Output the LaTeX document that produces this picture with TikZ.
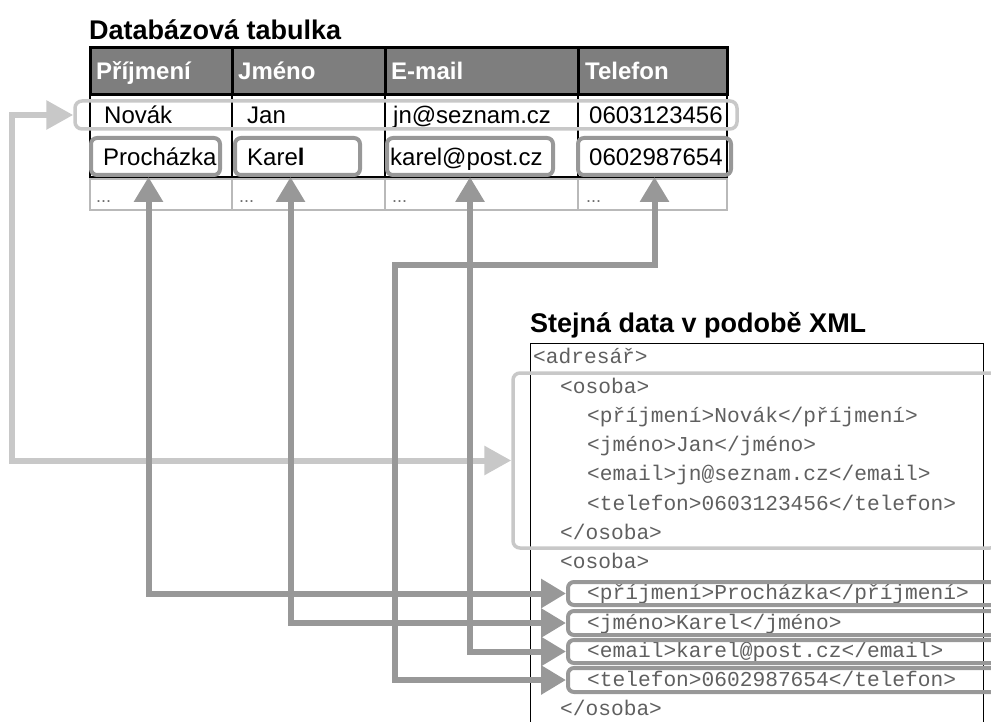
\documentclass[tikz,border=0pt]{standalone}
\usepackage{fontspec}
\setmainfont{Liberation Sans}
\setmonofont{Liberation Mono}
\usetikzlibrary{arrows.meta}

\begin{document}
\begin{tikzpicture}[x=1pt,y=-1pt,
  title/.style={anchor=base west,inner sep=0pt,font=\fontsize{27}{30}\selectfont\bfseries},
  head/.style={anchor=base west,inner sep=0pt,text=white,font=\fontsize{24}{28}\selectfont\bfseries},
  cell/.style={anchor=base west,inner sep=0pt,font=\fontsize{24}{28}\selectfont},
  more/.style={anchor=base west,inner sep=0pt,text=dots_gray,font=\fontsize{18}{20}\selectfont},
  xml/.style={anchor=base west,inner sep=0pt,text=xml_text,font=\fontsize{21.2}{24}\selectfont\ttfamily},
  rowbox/.style={draw=lt_gray,line width=3.5pt,rounded corners=7pt,inner sep=0pt},
  cellbox/.style={draw=dk_gray,line width=4pt,rounded corners=6pt,inner sep=0pt},
  ltarrow/.style={draw=lt_gray,line width=6pt,{Triangle[length=27pt,width=28pt]}-{Triangle[length=27pt,width=28pt]}},
  dkarrow/.style={draw=dk_gray,line width=6pt,{Triangle[length=25pt,width=28pt]}-{Triangle[length=25pt,width=28pt]}}
]
\definecolor{head_gray}{RGB}{126,126,126}
\definecolor{lt_gray}{RGB}{200,200,200}
\definecolor{dk_gray}{RGB}{152,152,152}
\definecolor{row_gray}{RGB}{185,185,185}
\definecolor{dots_gray}{RGB}{110,110,110}
\definecolor{xml_text}{RGB}{95,95,95}

\useasboundingbox (0,0) rectangle (991,722);

% table columns
\def\ca{90}
\def\cb{232}
\def\cc{385}
\def\cd{578}
\def\ce{727}

\node[title] (dbtitle) at (89,40) {Databázová tabulka};

% header row
\fill [head_gray] (\ca,48) rectangle (\ce,95);
\draw [line width=3pt] (\ca,48) rectangle (\ce,95);
\draw [line width=3pt] (\cb,48) -- (\cb,95);
\draw [line width=3pt] (\cc,48) -- (\cc,95);
\draw [line width=3pt] (\cd,48) -- (\cd,95);

% data rows
\draw [line width=1.5pt] (\ca,95) -- (\ca,178);
\draw [line width=1.5pt] (\cb,95) -- (\cb,178);
\draw [line width=1.5pt] (\cc,95) -- (\cc,178);
\draw [line width=1.5pt] (\cd,95) -- (\cd,178);
\draw [line width=1.5pt] (\ce,95) -- (\ce,178);
\draw [line width=3pt] (\ca,178) -- (\ce,178);
\draw [row_gray,line width=1.5pt] (\ca,179) rectangle (\ce,210);
\draw [row_gray,line width=1.5pt] (\cb,179) -- (\cb,210);
\draw [row_gray,line width=1.5pt] (\cc,179) -- (\cc,210);
\draw [row_gray,line width=1.5pt] (\cd,179) -- (\cd,210);

\node[head] (hprij) at (96,80) {Příjmení};
\node[head] (hjm)   at (238,80) {Jméno};
\node[head] (hmail) at (391,80) {E-mail};
\node[head] (htel)  at (585,80) {Telefon};

\node[cell] (tprij1) at (104,124) {Novák};
\node[cell] (tjm1)   at (247,124) {Jan};
\node[cell] (tmail1) at (393,124) {jn@seznam.cz};
\node[cell] (ttel1)  at (589,124) {0603123456};

\node[cell] (tprij2) at (103,166) {Procházka};
\node[cell] (tjm2)   at (247,166) {Kare\textbf{l}};
\node[cell] (tmail2) at (390,166) {karel@post.cz};
\node[cell] (ttel2)  at (589,166) {0602987654};

\node[more] (m1) at (96,203) {...};
\node[more] (m2) at (239,203) {...};
\node[more] (m3) at (392,203) {...};
\node[more] (m4) at (586,203) {...};

% highlighted record and fields
\node[rowbox,minimum width=662pt,minimum height=28pt] (nov) at (406,115) {};
\node[cellbox,minimum width=129pt,minimum height=37pt] (prij2) at (155.5,156.5) {};
\node[cellbox,minimum width=125pt,minimum height=37pt] (jm2)   at (297.5,156.5) {};
\node[cellbox,minimum width=166pt,minimum height=37pt] (mail2) at (470,156.5) {};
\node[cellbox,minimum width=153pt,minimum height=37pt] (tel2)  at (654.5,156.5) {};

% xml listing
\node[title] (xmltitle) at (530,332) {Stejná data v podobě XML};
\draw [line width=1pt] (530,343) rectangle (983,740);

\node[xml] (x0)  at (533,363) {<adresář>};
\node[xml] (x1)  at (560,393.5) {<osoba>};
\node[xml] (x2)  at (587,422) {<příjmení>Novák</příjmení>};
\node[xml] (x3)  at (587,451) {<jméno>Jan</jméno>};
\node[xml] (x4)  at (587,480.5) {<email>jn@seznam.cz</email>};
\node[xml] (x5)  at (587,510) {<telefon>0603123456</telefon>};
\node[xml] (x6)  at (560,539) {</osoba>};
\node[xml] (x7)  at (560,568) {<osoba>};
\node[xml] (x8)  at (587,599.5) {<příjmení>Procházka</příjmení>};
\node[xml] (x9)  at (587,629) {<jméno>Karel</jméno>};
\node[xml] (x10) at (587,657.5) {<email>karel@post.cz</email>};
\node[xml] (x11) at (587,686) {<telefon>0602987654</telefon>};
\node[xml] (x12) at (560,715) {</osoba>};

\node[rowbox,minimum width=484pt,minimum height=175pt] (osoba1) at (755,460.5) {};
\node[cellbox,minimum width=432pt,minimum height=23pt] (xprij) at (784,593.5) {};
\node[cellbox,minimum width=432pt,minimum height=24pt] (xjm)   at (784,623) {};
\node[cellbox,minimum width=432pt,minimum height=23pt] (xmail) at (784,651.5) {};
\node[cellbox,minimum width=432pt,minimum height=24pt] (xtel)  at (784,680) {};

% connectors
\coordinate (lbend) at (12,460.5);
\coordinate (telbend) at (395,265);

\draw [ltarrow] (nov.west) -| (lbend) -- (osoba1.west);
\draw [dkarrow] ([xshift=-7pt]prij2.south) |- (xprij.west);
\draw [dkarrow] ([xshift=-7pt]jm2.south) |- (xjm.west);
\draw [dkarrow] (mail2.south) |- (xmail.west);
\draw [dkarrow] (tel2.south) |- (telbend) |- (xtel.west);

\end{tikzpicture}
\end{document}
